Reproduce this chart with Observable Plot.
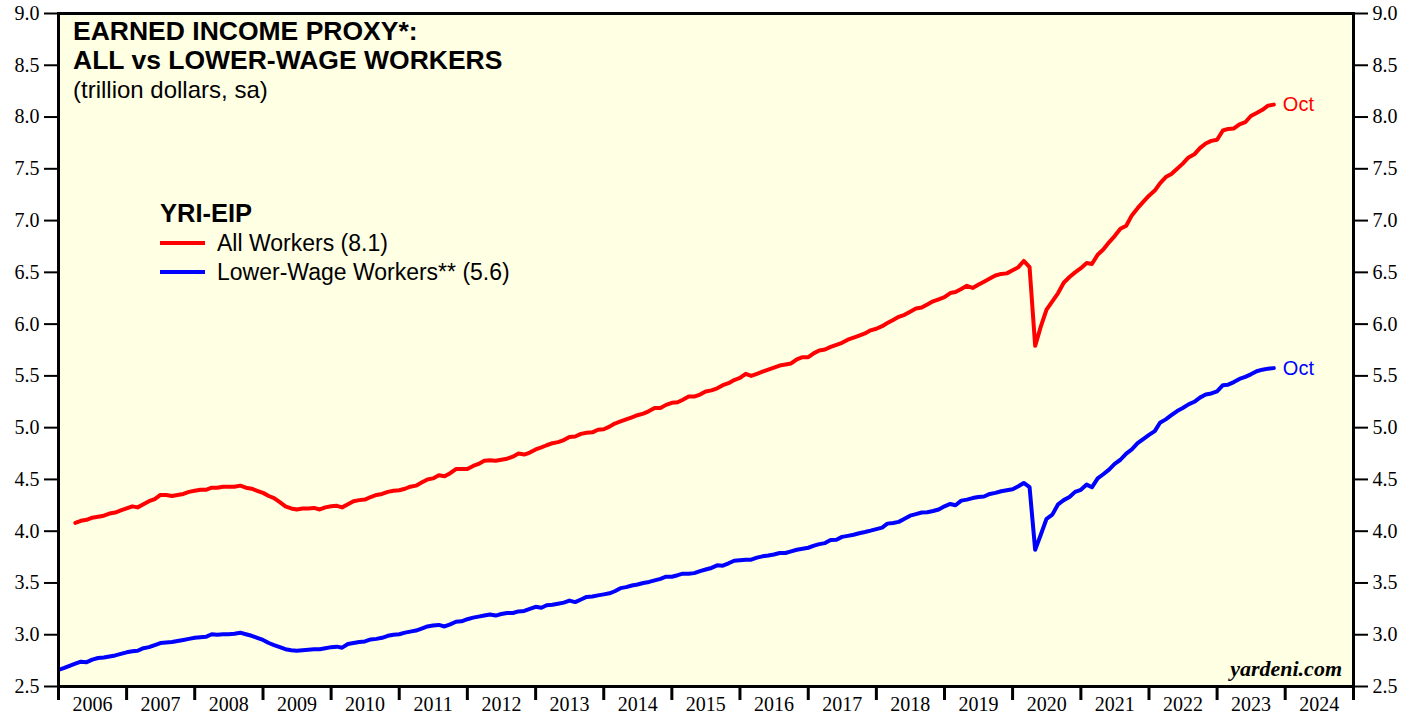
<!DOCTYPE html>
<html>
<head>
<meta charset="utf-8">
<script src="https://cdn.jsdelivr.net/npm/d3@7"></script>
<script src="https://cdn.jsdelivr.net/npm/@observablehq/plot@0.6"></script>
<style>
  html, body { margin: 0; padding: 0; background: #fff; }
</style>
</head>
<body>
<div id="chart"></div>
<script>
// ---- Data (monthly, trillion dollars, sa) ----
// All Workers: first value is Mar 2006
const allStart = [2006, 2];
const allWorkers = [
  4.08, 4.10, 4.11, 4.13, 4.14, 4.15, 4.17, 4.18, 4.20, 4.22,
  4.24, 4.23, 4.26, 4.29, 4.31, 4.35, 4.35, 4.34, 4.35, 4.36, 4.38, 4.39,
  4.40, 4.40, 4.42, 4.42, 4.43, 4.43, 4.43, 4.44, 4.42, 4.41, 4.39, 4.37,
  4.34, 4.32, 4.28, 4.24, 4.22, 4.21, 4.22, 4.22, 4.225, 4.21, 4.23, 4.24,
  4.245, 4.23, 4.26, 4.29, 4.30, 4.305, 4.33, 4.35, 4.36, 4.38, 4.39, 4.395,
  4.41, 4.43, 4.44, 4.47, 4.50, 4.51, 4.54, 4.53, 4.56, 4.60, 4.60, 4.60,
  4.63, 4.65, 4.68, 4.685, 4.68, 4.69, 4.70, 4.72, 4.75, 4.74, 4.76, 4.79,
  4.81, 4.83, 4.85, 4.86, 4.88, 4.91, 4.915, 4.94, 4.95, 4.955, 4.98, 4.985,
  5.01, 5.04, 5.06, 5.08, 5.10, 5.12, 5.135, 5.16, 5.19, 5.19, 5.22, 5.24,
  5.245, 5.27, 5.30, 5.30, 5.32, 5.35, 5.36, 5.38, 5.41, 5.43, 5.46, 5.48,
  5.52, 5.50, 5.52, 5.54, 5.56, 5.58, 5.60, 5.61, 5.62, 5.66, 5.68, 5.68,
  5.72, 5.745, 5.755, 5.78, 5.80, 5.82, 5.85, 5.87, 5.89, 5.91, 5.94, 5.955,
  5.98, 6.01, 6.04, 6.07, 6.09, 6.12, 6.15, 6.16, 6.19, 6.22, 6.24, 6.26,
  6.30, 6.31, 6.34, 6.37, 6.35, 6.38, 6.41, 6.44, 6.47, 6.485, 6.49, 6.52,
  6.55, 6.61, 6.55, 5.79, 5.98, 6.14, 6.22, 6.30, 6.40, 6.455, 6.50, 6.54,
  6.59, 6.58, 6.67, 6.72, 6.79, 6.85, 6.92, 6.95, 7.05, 7.12, 7.18, 7.24,
  7.29, 7.36, 7.42, 7.45, 7.50, 7.55, 7.61, 7.64, 7.70, 7.745, 7.77, 7.78,
  7.87, 7.885, 7.89, 7.93, 7.95, 8.01, 8.04, 8.07, 8.11, 8.12
];
// Lower-Wage Workers: first value is Dec 2005
const lowStart = [2005, 11];
const lowerWage = [
  2.66, 2.68, 2.70, 2.72, 2.74, 2.735, 2.76, 2.775, 2.78, 2.79, 2.80, 2.815, 2.83,
  2.84, 2.845, 2.87, 2.88, 2.90, 2.92, 2.925, 2.93, 2.94, 2.95, 2.96, 2.97,
  2.975, 2.98, 3.005, 3.0, 3.005, 3.005, 3.01, 3.02, 3.005, 2.99, 2.97, 2.95,
  2.92, 2.90, 2.88, 2.86, 2.85, 2.845, 2.85, 2.855, 2.86, 2.86, 2.87, 2.88,
  2.885, 2.875, 2.91, 2.92, 2.93, 2.935, 2.955, 2.96, 2.97, 2.99, 3.0, 3.005,
  3.02, 3.03, 3.04, 3.06, 3.08, 3.09, 3.095, 3.08, 3.10, 3.125, 3.13, 3.15,
  3.165, 3.175, 3.185, 3.195, 3.185, 3.20, 3.21, 3.21, 3.225, 3.23, 3.25, 3.27,
  3.26, 3.285, 3.29, 3.30, 3.31, 3.33, 3.315, 3.34, 3.365, 3.37, 3.38, 3.39,
  3.40, 3.42, 3.45, 3.46, 3.475, 3.485, 3.50, 3.51, 3.525, 3.54, 3.56, 3.56,
  3.575, 3.59, 3.59, 3.595, 3.615, 3.63, 3.645, 3.67, 3.667, 3.69, 3.715, 3.72,
  3.725, 3.725, 3.745, 3.757, 3.765, 3.775, 3.789, 3.789, 3.805, 3.821, 3.83, 3.84,
  3.86, 3.875, 3.885, 3.915, 3.918, 3.945, 3.955, 3.966, 3.98, 3.992, 4.005, 4.02,
  4.035, 4.073, 4.08, 4.09, 4.12, 4.15, 4.165, 4.18, 4.183, 4.195, 4.21, 4.24,
  4.263, 4.25, 4.295, 4.305, 4.32, 4.33, 4.335, 4.36, 4.37, 4.386, 4.395, 4.405,
  4.434, 4.466, 4.425, 3.82, 3.97, 4.12, 4.16, 4.26, 4.30, 4.33, 4.38, 4.40,
  4.45, 4.424, 4.51, 4.55, 4.595, 4.65, 4.69, 4.75, 4.79, 4.85, 4.89, 4.93,
  4.966, 5.047, 5.08, 5.12, 5.16, 5.19, 5.225, 5.25, 5.29, 5.32, 5.33, 5.35,
  5.41, 5.415, 5.44, 5.47, 5.49, 5.515, 5.545, 5.56, 5.57, 5.575
];
const yTicks = [2.5, 3.0, 3.5, 4.0, 4.5, 5.0, 5.5, 6.0, 6.5, 7.0, 7.5, 8.0, 8.5, 9.0];
const years = [2006, 2007, 2008, 2009, 2010, 2011, 2012, 2013, 2014, 2015, 2016, 2017, 2018, 2019, 2020, 2021, 2022, 2023, 2024];
const lastMonthLabel = "Oct";
const seriesNames = ["All Workers (8.1)", "Lower-Wage Workers** (5.6)"];
const seriesColors = ["#ff0000", "#0000ff"];

// ---- Build tables (each monthly value plotted at month end) ----
function toRows(values, start) {
  return values.map((v, i) => ({date: new Date(Date.UTC(start[0], start[1] + i + 1, 1)), value: v}));
}
const allRows = toRows(allWorkers, allStart);
const lowRows = toRows(lowerWage, lowStart);
const lastRows = [
  {...allRows[allRows.length - 1], color: seriesColors[0]},
  {...lowRows[lowRows.length - 1], color: seriesColors[1]}
];
const yearStarts = years.map(y => new Date(Date.UTC(y, 0, 1))).concat([new Date(Date.UTC(years[years.length - 1] + 1, 0, 1))]);
const yearMids = years.map(y => new Date(Date.UTC(y, 6, 2)));

const serif = "'Liberation Serif', 'Times New Roman', serif";
const sans = "'Liberation Sans', Arial, Helvetica, sans-serif";

const chart = Plot.plot({
  width: 1419,
  height: 717,
  marginLeft: 58,
  marginRight: 66,
  marginTop: 13,
  marginBottom: 31,
  style: {background: "#ffffff", color: "#000", fontFamily: serif, fontSize: "20px", overflow: "visible"},
  x: {type: "utc", domain: [yearStarts[0], yearStarts[yearStarts.length - 1]]},
  y: {domain: [2.5, 9]},
  marks: [
    Plot.frame({fill: "#ffffe4", stroke: null}),
    Plot.axisY({anchor: "left", ticks: yTicks, tickFormat: d => d.toFixed(1), tickSize: 14, tickPadding: 5, label: null, strokeWidth: 2, fontSize: 20, fontFamily: serif}),
    Plot.axisY({anchor: "right", ticks: yTicks, tickFormat: d => d.toFixed(1), tickSize: 14, tickPadding: 5, label: null, strokeWidth: 2, fontSize: 20, fontFamily: serif}),
    Plot.axisX({ticks: yearStarts, tickSize: 14, tickFormat: () => "", label: null, strokeWidth: 3}),
    Plot.axisX({ticks: yearMids, tickSize: 0, tickPadding: 10, tickFormat: d => String(d.getUTCFullYear()), label: null, fontSize: 20, fontFamily: serif}),
    Plot.line(allRows, {x: "date", y: "value", stroke: seriesColors[0], strokeWidth: 4, clip: true}),
    Plot.line(lowRows, {x: "date", y: "value", stroke: seriesColors[1], strokeWidth: 4, clip: true}),
    Plot.text(lastRows, {x: "date", y: "value", text: () => lastMonthLabel, fill: "color", dx: 9, textAnchor: "start", fontFamily: sans, fontSize: 20}),
    Plot.frame({stroke: "#000", strokeWidth: 3})
  ]
});
document.getElementById("chart").appendChild(chart);

// ---- Annotations (title, legend, credit) ----
const svg = d3.select(chart);
const g = svg.append("g").attr("font-family", sans).attr("fill", "#000").attr("text-anchor", "start");
g.append("text").attr("x", 73).attr("y", 40).attr("font-size", 26.5).attr("font-weight", "bold").text("EARNED INCOME PROXY*:");
g.append("text").attr("x", 73).attr("y", 69).attr("font-size", 26.5).attr("font-weight", "bold").text("ALL vs LOWER-WAGE WORKERS");
g.append("text").attr("x", 73).attr("y", 98).attr("font-size", 24).text("(trillion dollars, sa)");
g.append("text").attr("x", 160).attr("y", 222).attr("font-size", 25.5).attr("font-weight", "bold").text("YRI-EIP");
seriesNames.forEach((name, i) => {
  const yy = 243 + i * 29;
  g.append("line").attr("x1", 160).attr("x2", 205).attr("y1", yy).attr("y2", yy).attr("stroke", seriesColors[i]).attr("stroke-width", 4);
  g.append("text").attr("x", 217).attr("y", yy).attr("dy", "0.36em").attr("font-size", 23).text(name);
});
g.append("text").attr("x", 1342).attr("y", 676).attr("text-anchor", "end").attr("font-family", serif)
  .attr("font-size", 22).attr("font-weight", "bold").attr("font-style", "italic").text("yardeni.com");
</script>
</body>
</html>
